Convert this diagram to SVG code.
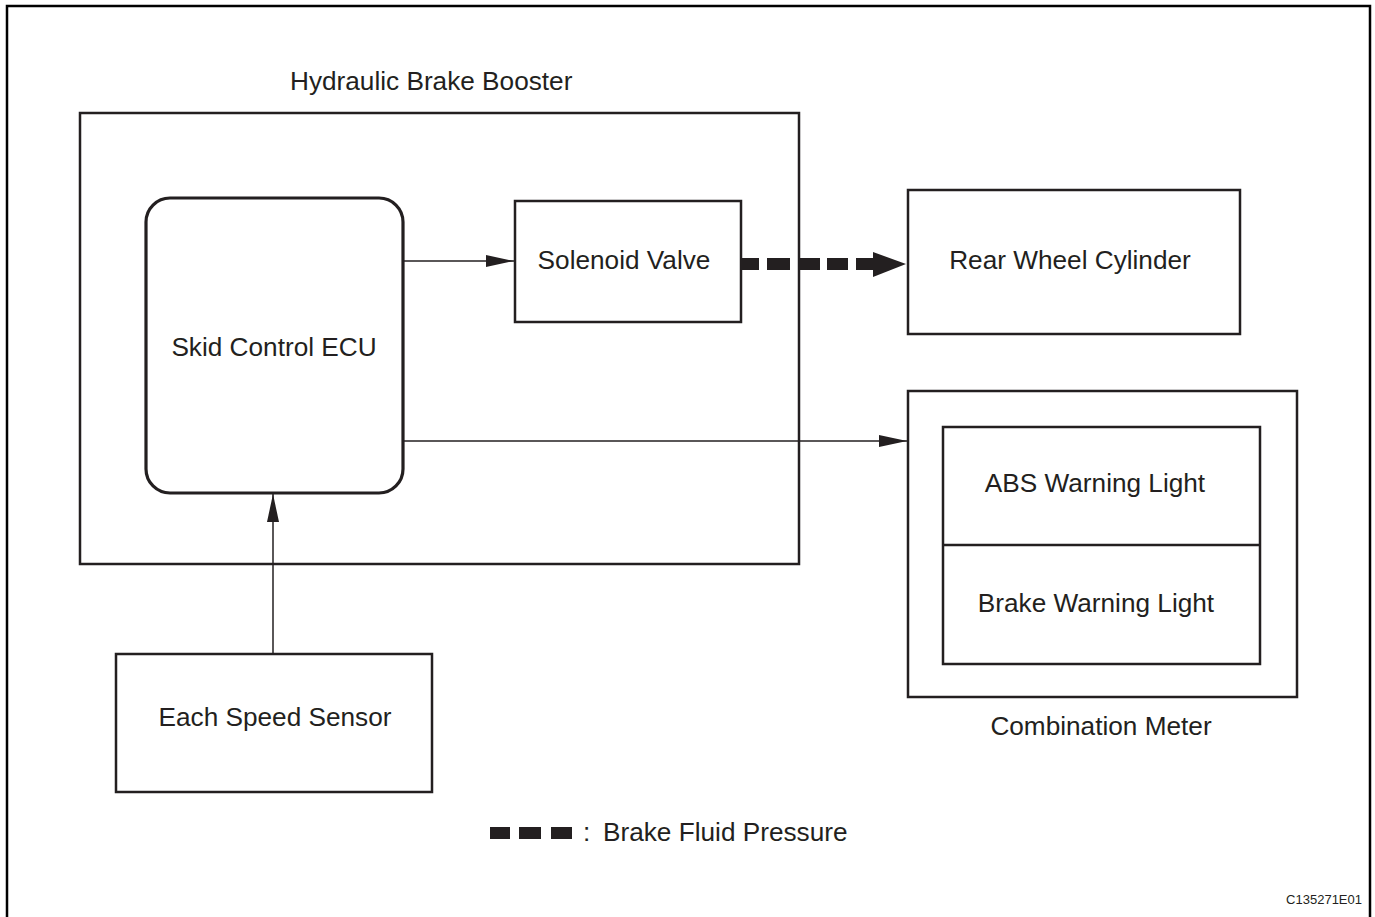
<svg xmlns="http://www.w3.org/2000/svg" width="1375" height="917" viewBox="0 0 1375 917">
<style>
.box{fill:none;stroke:#231f20;stroke-width:2.5}
.t{font-family:"Liberation Sans",Arial,sans-serif;font-size:26.2px;fill:#231f20}
.m{text-anchor:middle}
.ln{stroke:#231f20;stroke-width:1.5;fill:none}
</style>
<defs>
<marker id="ah" markerWidth="28" markerHeight="12" refX="28" refY="6" orient="auto" markerUnits="userSpaceOnUse">
<path d="M0,0 L28,6 L0,12 Z" fill="#231f20"/>
</marker>
</defs>
<rect x="0" y="0" width="1375" height="917" fill="#fff"/>
<path d="M7,1000 V6 H1370 V1000" fill="none" stroke="#000" stroke-width="2.5"/>
<g id="booster">
<rect class="box" x="80" y="113" width="719" height="451"/>
<text class="t" x="290" y="90">Hydraulic Brake Booster</text>
</g>
<g id="ecu">
<rect x="146" y="198" width="257" height="295" rx="24" fill="none" stroke="#231f20" stroke-width="3.2"/>
<text class="t m" x="274" y="356">Skid Control ECU</text>
</g>
<g id="solenoid">
<rect class="box" x="515" y="201" width="226" height="121"/>
<text class="t m" x="624" y="269">Solenoid Valve</text>
</g>
<g id="rear">
<rect class="box" x="908" y="190" width="332" height="144"/>
<text class="t m" x="1070" y="269">Rear Wheel Cylinder</text>
</g>
<g id="meter">
<rect class="box" x="908" y="391" width="389" height="306"/>
<rect class="box" x="943" y="427" width="317" height="237"/>
<line x1="943" y1="545" x2="1260" y2="545" stroke="#231f20" stroke-width="2.5"/>
<text class="t m" x="1095" y="492">ABS Warning Light</text>
<text class="t m" x="1096" y="612">Brake Warning Light</text>
<text class="t m" x="1101" y="735">Combination Meter</text>
</g>
<g id="sensor">
<rect class="box" x="116" y="654" width="316" height="138"/>
<text class="t m" x="275" y="726">Each Speed Sensor</text>
</g>
<g id="connectors">
<line class="ln" x1="403" y1="261" x2="514" y2="261" marker-end="url(#ah)"/>
<line class="ln" x1="403" y1="441" x2="907" y2="441" marker-end="url(#ah)"/>
<line class="ln" x1="273" y1="654" x2="273" y2="494" marker-end="url(#ah)"/>
<g fill="#231f20">
<rect x="742" y="258" width="17" height="12"/>
<rect x="767" y="258" width="23" height="12"/>
<rect x="799" y="258" width="21" height="12"/>
<rect x="827" y="258" width="21" height="12"/>
<rect x="856" y="258" width="20" height="12"/>
<path d="M873,252 L906,264 L873,277 Z"/>
</g>
</g>
<g id="legend">
<g fill="#231f20">
<rect x="490" y="827" width="20" height="12"/>
<rect x="519" y="827" width="22" height="12"/>
<rect x="551" y="827" width="21" height="12"/>
</g>
<text class="t" x="583" y="841">:</text>
<text class="t" x="603" y="841">Brake Fluid Pressure</text>
</g>
<text x="1362" y="904" font-family="'Liberation Sans',Arial,sans-serif" font-size="13" fill="#231f20" text-anchor="end">C135271E01</text>
</svg>
